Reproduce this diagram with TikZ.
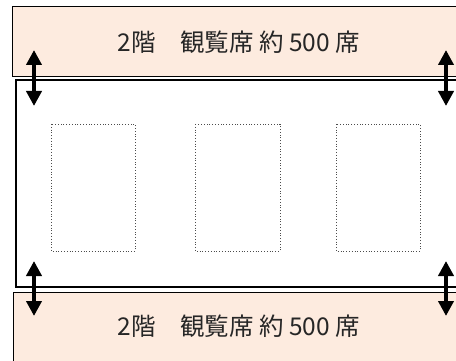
\documentclass[tikz,border=0pt]{standalone}
\usepackage{fontspec}
\setmainfont{Noto Sans CJK JP}
\usetikzlibrary{arrows.meta}
\definecolor{peach}{HTML}{FDEBDF}
\tikzset{
  band/.style={draw=black, line width=0.9pt, fill=peach},
  hall/.style={draw=black, line width=2pt, fill=white},
  seatarea/.style={draw=black!70, line width=0.8pt, dotted},
  gap/.style={line width=4pt, {Triangle[length=15pt,width=15pt]}-{Triangle[length=15pt,width=15pt]}},
  lbl/.style={font=\fontsize{24.5}{28}\selectfont, text=black!85, inner sep=0pt}
}
\begin{document}
\begin{tikzpicture}[x=1pt,y=-1pt]
\useasboundingbox (0,0) rectangle (456,361);
% top band
\path[band] (12,6) rectangle (470,76);
\node[lbl] (toplabel) at (239,42) {2階　観覧席 約 500 席};
% bottom band
\path[band] (13,292) rectangle (470,375);
\node[lbl] (botlabel) at (239,326) {2階　観覧席 約 500 席};
% hall
\path[hall] (16,80) rectangle (470,287);
% seat areas
\draw[seatarea] (51,124) rectangle (135,251);
\draw[seatarea] (195,124) rectangle (280,251);
\draw[seatarea] (336,124) rectangle (420,251);
% arrows
\coordinate (tl1) at (34,50); \coordinate (tl2) at (34,106);
\coordinate (tr1) at (446,50); \coordinate (tr2) at (446,106);
\coordinate (bl1) at (34,261); \coordinate (bl2) at (34,316);
\coordinate (br1) at (446,261); \coordinate (br2) at (446,316);
\draw[gap] (tl1) -- (tl2);
\draw[gap] (tr1) -- (tr2);
\draw[gap] (bl1) -- (bl2);
\draw[gap] (br1) -- (br2);
\end{tikzpicture}
\end{document}
